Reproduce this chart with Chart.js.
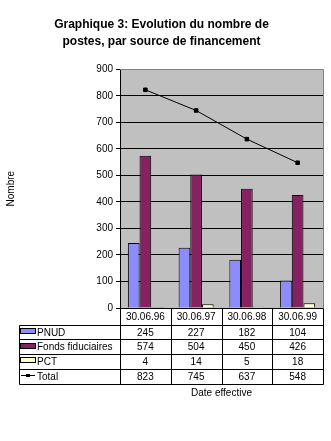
<!DOCTYPE html>
<html>
<head>
<meta charset="utf-8">
<script src="https://cdn.jsdelivr.net/npm/chart.js@4"></script>
<style>
  body { margin: 0; background: #fff; }
  #wrap { width: 331px; height: 441px; }
</style>
</head>
<body>
<div id="wrap"><canvas id="chart" width="331" height="441"></canvas></div>
<script>
// data
var dates = ['30.06.96', '30.06.97', '30.06.98', '30.06.99'];
var pnud = [245, 227, 182, 104];
var fonds = [574, 504, 450, 426];
var pct = [4, 14, 5, 18];
var total = [823, 745, 637, 548];
var yMax = 900, yStep = 100;

var FONT = 'Arial, "Liberation Sans", sans-serif';

// grey plot background + grey frame
var plotBg = {
  id: 'plotBg',
  beforeDraw: function (chart) {
    var a = chart.chartArea, ctx = chart.ctx;
    ctx.save();
    ctx.fillStyle = '#c0c0c0';
    ctx.fillRect(a.left, a.top, a.right - a.left, a.bottom - a.top);
    ctx.restore();
  },
  beforeDatasetsDraw: function (chart) {
    var a = chart.chartArea, ctx = chart.ctx;
    ctx.save();
    ctx.strokeStyle = '#808080';
    ctx.lineWidth = 1;
    ctx.beginPath();
    ctx.moveTo(a.left, Math.round(a.top) + 0.5);
    ctx.lineTo(Math.round(a.right) + 0.5, Math.round(a.top) + 0.5);
    ctx.lineTo(Math.round(a.right) + 0.5, a.bottom);
    ctx.stroke();
    ctx.restore();
  }
};

// data table under the plot
var dataTable = {
  id: 'dataTable',
  afterDraw: function (chart) {
    var a = chart.chartArea, ctx = chart.ctx;
    var n = dates.length;
    var w = (a.right - a.left) / n;
    var x0 = 19.5;
    var top = Math.round(a.bottom) + 0.5;
    var hdr = top + 16;
    var rowH = 14.75;
    var sets = chart.data.datasets;
    var bottom = Math.round(hdr + rowH * sets.length) + 0.5;

    ctx.save();
    ctx.strokeStyle = '#000';
    ctx.lineWidth = 1;
    ctx.beginPath();
    ctx.moveTo(a.left, top); ctx.lineTo(Math.round(a.right) + 0.5, top);
    for (var r = 0; r <= sets.length; r++) {
      var y = Math.round(hdr + r * rowH) + 0.5;
      ctx.moveTo(x0, y); ctx.lineTo(Math.round(a.right) + 0.5, y);
    }
    ctx.moveTo(x0, Math.round(hdr) + 0.5); ctx.lineTo(x0, bottom);
    for (var i = 0; i <= n; i++) {
      var x = Math.round(a.left + i * w) + 0.5;
      ctx.moveTo(x, top); ctx.lineTo(x, bottom);
    }
    ctx.stroke();

    ctx.fillStyle = '#000';
    ctx.font = '10px ' + FONT;
    ctx.textAlign = 'center';
    ctx.textBaseline = 'middle';
    for (var i = 0; i < n; i++) {
      ctx.fillText(dates[i], a.left + (i + 0.5) * w, (top + hdr) / 2 + 1);
    }
    for (var r = 0; r < sets.length; r++) {
      var ds = sets[r];
      var yc = hdr + (r + 0.5) * rowH + 1;
      for (var i = 0; i < n; i++) {
        ctx.fillStyle = '#000';
        ctx.textAlign = 'center';
        ctx.fillText(String(ds.data[i]), a.left + (i + 0.5) * w, yc);
      }
      // legend key
      if (ds.type === 'line') {
        ctx.beginPath();
        ctx.moveTo(21, Math.round(yc - 2) + 0.5); ctx.lineTo(35, Math.round(yc - 2) + 0.5);
        ctx.stroke();
        ctx.fillRect(26, Math.round(yc - 3), 4, 3);
      } else {
        ctx.fillStyle = ds.backgroundColor;
        ctx.fillRect(21, Math.round(yc - 4), 14, 4);
        ctx.strokeRect(20.5, Math.round(yc - 4) - 0.5, 15, 5);
      }
      ctx.fillStyle = '#000';
      ctx.textAlign = 'left';
      ctx.fillText(ds.label, 37, yc);
    }
    ctx.textAlign = 'center';
    ctx.fillText('Date effective', (a.left + a.right) / 2, bottom + 9);
    ctx.restore();
  }
};

new Chart(document.getElementById('chart'), {
  type: 'bar',
  data: {
    labels: dates,
    datasets: [
      { label: 'PNUD', data: pnud, backgroundColor: '#8c8cff', borderColor: '#000', borderWidth: 1, order: 1 },
      { label: 'Fonds fiduciaires', data: fonds, backgroundColor: '#862262', borderColor: '#000', borderWidth: 1, order: 1 },
      { label: 'PCT', data: pct, backgroundColor: '#ffffcc', borderColor: '#000', borderWidth: 1, order: 1 },
      { type: 'line', label: 'Total', data: total, borderColor: '#000', borderWidth: 1,
        pointStyle: 'rect', pointRadius: 2.5, pointBackgroundColor: '#000', pointBorderColor: '#000', order: 0 }
    ]
  },
  options: {
    responsive: false,
    animation: false,
    datasets: { bar: { categoryPercentage: 0.69, barPercentage: 1.0 } },
    layout: { padding: { left: 0, right: 8, top: 0, bottom: 133 } },
    plugins: {
      legend: { display: false },
      tooltip: { enabled: false },
      title: {
        display: true,
        text: ['Graphique 3: Evolution du nombre de', 'postes, par source de financement'],
        color: '#000',
        font: { family: FONT, size: 12, weight: 'bold', lineHeight: 1.35 },
        padding: { top: 17, bottom: 20 }
      }
    },
    scales: {
      x: { display: false },
      y: {
        min: 0, max: yMax,
        afterFit: function (s) { s.width = 120; },
        ticks: { stepSize: yStep, color: '#000', padding: 3, font: { family: FONT, size: 10 } },
        grid: {
          color: function (c) { return c.tick && c.tick.value === yMax ? '#808080' : '#000'; },
          tickColor: '#000',
          tickLength: 4
        },
        border: { color: '#000' },
        title: { display: true, text: 'Nombre', color: '#000', padding: { top: 5, bottom: 0 }, font: { family: FONT, size: 10 } }
      }
    }
  },
  plugins: [plotBg, dataTable]
});
</script>
</body>
</html>
